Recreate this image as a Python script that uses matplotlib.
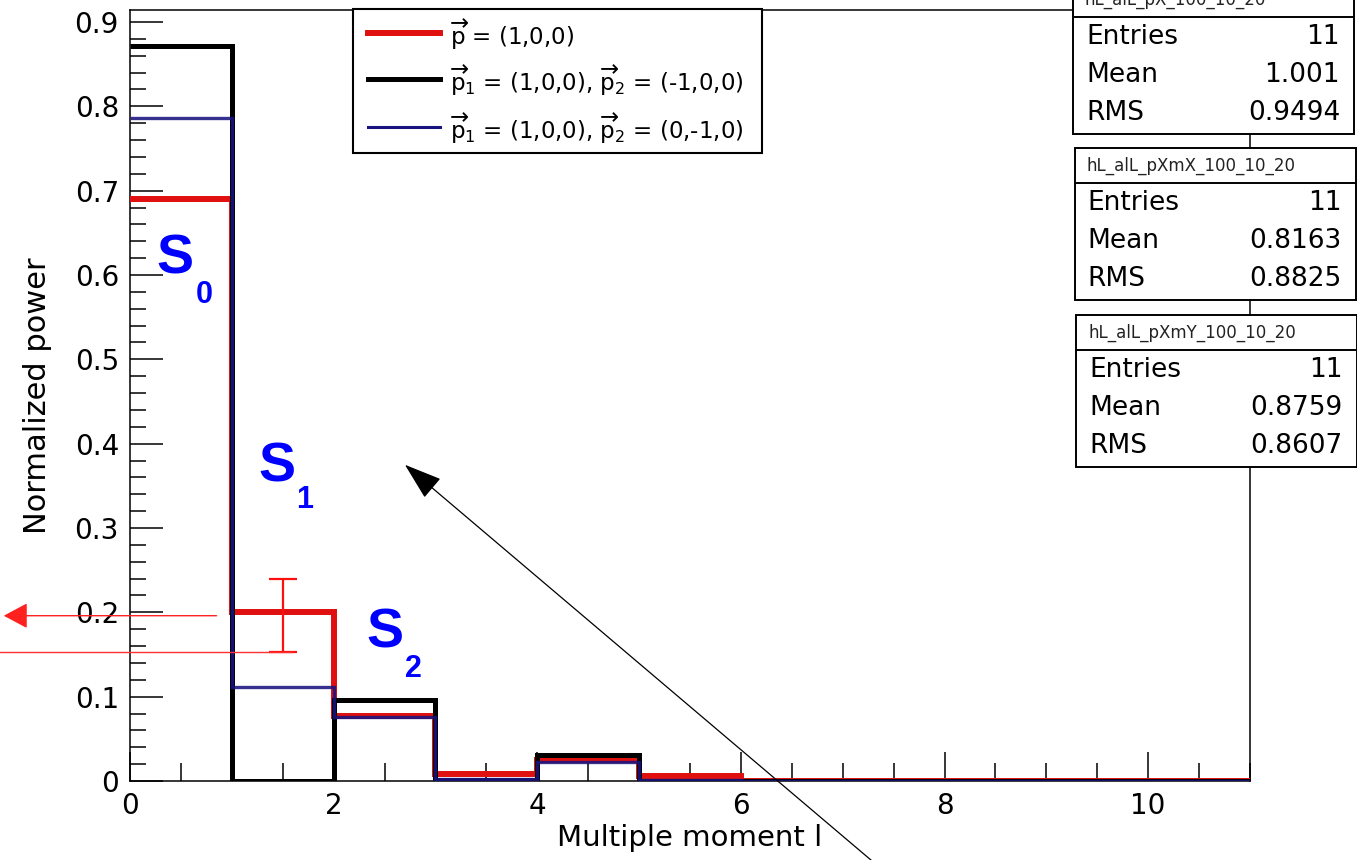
"""Normalized multipole power spectra for three momentum configurations."""

import matplotlib

matplotlib.use("Agg")
import matplotlib.pyplot as plt
import numpy as np
from matplotlib.patches import Rectangle
from matplotlib.lines import Line2D
from matplotlib.ticker import MultipleLocator, FuncFormatter

W, H = 1357, 860

# multipole bins l = 0..10
edges = np.arange(12)
power_px = [0.690, 0.200, 0.077, 0.008, 0.025, 0.006, 0.0, 0.0, 0.0, 0.0, 0.0]
power_pxmx = [0.872, 0.000, 0.096, 0.001, 0.031, 0.000, 0.0, 0.0, 0.0, 0.0, 0.0]
power_pxmy = [0.786, 0.112, 0.076, 0.002, 0.022, 0.001, 0.0, 0.0, 0.0, 0.0, 0.0]

legend_labels = [
    r"$\overrightarrow{\mathrm{p}}$ = (1,0,0)",
    r"$\overrightarrow{\mathrm{p}}_{1}$ = (1,0,0), $\overrightarrow{\mathrm{p}}_{2}$ = (-1,0,0)",
    r"$\overrightarrow{\mathrm{p}}_{1}$ = (1,0,0), $\overrightarrow{\mathrm{p}}_{2}$ = (0,-1,0)",
]

hist_names = ["hL_alL_pX_100_10_20", "hL_alL_pXmX_100_10_20", "hL_alL_pXmY_100_10_20"]
entries = ["11", "11", "11"]
means = ["1.001", "0.8163", "0.8759"]
rms_values = ["0.9494", "0.8825", "0.8607"]

# error estimate on the l=1 bin
err_x = [1.5]
err_y = [0.196]
err_size = [0.043]

RED = "#e01010"
BLACK = "#000000"
NAVY = "#1a1480"

plt.rcParams["font.family"] = ["DejaVu Sans"]
plt.rcParams["mathtext.fontset"] = "dejavusans"


def fx(x):
    return x / W


def fy(y):
    return 1 - y / H


fig = plt.figure(figsize=(W / 100, H / 100), dpi=100)
ax = fig.add_axes([fx(130), fy(781), (1250 - 130) / W, (781 - 10) / H])

ax.stairs(power_px, edges, color=RED, lw=4.3, baseline=None, zorder=3)
ax.stairs(power_pxmx, edges, color=BLACK, lw=3.6, baseline=None, zorder=4)
ax.stairs(power_pxmy, edges, color=NAVY, lw=2.4, alpha=0.88, baseline=None, zorder=5)

ax.set_xlim(0, 11)
ax.set_ylim(0, (781 - 10) / 843.3)

ax.xaxis.set_major_locator(MultipleLocator(2))
ax.xaxis.set_minor_locator(MultipleLocator(0.5))
ax.yaxis.set_major_locator(MultipleLocator(0.1))
ax.yaxis.set_minor_locator(MultipleLocator(0.02))
ax.yaxis.set_major_formatter(FuncFormatter(lambda v, _: "0" if abs(v) < 1e-9 else f"{v:.1f}"))
ax.xaxis.set_major_formatter(FuncFormatter(lambda v, _: f"{v:.0f}"))

ax.tick_params(axis="both", which="both", direction="in", top=False, right=False,
               labelsize=20, width=1.1, colors="black")
ax.tick_params(axis="y", which="major", length=24, pad=8)
ax.tick_params(axis="y", which="minor", length=11.5)
ax.tick_params(axis="x", which="major", length=21, pad=8)
ax.tick_params(axis="x", which="minor", length=13)
for s in ax.spines.values():
    s.set_linewidth(1.1)

ax.set_xlabel("Multiple moment l", fontsize=21, labelpad=3)
ax.set_ylabel("Normalized power", fontsize=22, labelpad=16)

# error bar and reference lines on the l=1 bin
ax.errorbar(err_x, err_y, yerr=err_size, fmt="none", ecolor="#ff1010",
            elinewidth=1.6, capsize=10, capthick=1.6, zorder=6)
ax.annotate("", xy=(-1.24, err_y[0]), xytext=(0.85, err_y[0]), xycoords="data",
            arrowprops=dict(arrowstyle="-|>,head_length=0.75,head_width=0.4",
                            color="#ff2020", lw=1.0, mutation_scale=20,
                            shrinkA=0, shrinkB=0),
            annotation_clip=False, zorder=6)
ax.add_line(Line2D([-1.3, 1.59], [err_y[0] - err_size[0], err_y[0] - err_size[0]],
                   color="#ff3030", lw=1.0, clip_on=False, zorder=6))

ax.annotate("", xy=(2.70, 0.375), xytext=(7.28, -0.094), xycoords="data",
            arrowprops=dict(arrowstyle="-|>,head_length=1.2,head_width=0.4",
                            color="black", lw=0.9, mutation_scale=20,
                            shrinkA=0, shrinkB=0),
            annotation_clip=False, zorder=7)

# S_l labels
for num, (sx, sy), (nx, ny) in zip(["0", "1", "2"],
                                   [(175, 260), (277, 467), (385, 634)],
                                   [(204, 295), (305, 500), (413, 669)]):
    fig.text(fx(sx), fy(sy), "S", family="Liberation Sans", weight="bold",
             fontsize=40, color="#0000ff", ha="center", va="center")
    fig.text(fx(nx), fy(ny), num, family="Liberation Sans", weight="bold",
             fontsize=22, color="#0000ff", ha="center", va="center")

# legend box
fig.patches.append(Rectangle((fx(353), fy(153)), (762 - 353) / W, (153 - 9) / H,
                             transform=fig.transFigure, facecolor="white",
                             edgecolor="black", lw=1.5, zorder=10))
for i, (lbl, col, lw) in enumerate(zip(legend_labels, [RED, BLACK, NAVY], [4.3, 3.6, 2.2])):
    yrow = [33, 79, 127][i]
    fig.lines.append(Line2D([fx(368), fx(440)], [fy(yrow), fy(yrow)],
                            transform=fig.transFigure, color=col, lw=lw, zorder=11))
    fig.text(fx(450), fy(yrow + 2), lbl, fontsize=16.5, ha="left", va="center", zorder=11)

# statistics boxes
box_tops = [-18, 148, 315]
for k, top in enumerate(box_tops):
    left = 1073 + k * 1.5
    right = W - 3 + k * 1.5
    fig.patches.append(Rectangle((fx(left), fy(top + 152)), (right - left) / W, 152 / H,
                                 transform=fig.transFigure, facecolor="white",
                                 edgecolor="black", lw=1.4, zorder=10))
    fig.lines.append(Line2D([fx(left), fx(right)], [fy(top + 35), fy(top + 35)],
                            transform=fig.transFigure, color="black", lw=1.4, zorder=11))
    fig.text(fx(left + 12), fy(top + 18), hist_names[k], fontsize=12, ha="left",
             va="center", color="#222222", zorder=11)
    for j, (name, val) in enumerate(zip(["Entries", "Mean", "RMS"],
                                        [entries[k], means[k], rms_values[k]])):
        yrow = top + 55 + 38 * j
        fig.text(fx(left + 13), fy(yrow), name, fontsize=19, ha="left", va="center", zorder=11)
        fig.text(fx(right - 14), fy(yrow), val, fontsize=19, ha="right", va="center", zorder=11)

fig.savefig("out.png", dpi=100, facecolor="white")
